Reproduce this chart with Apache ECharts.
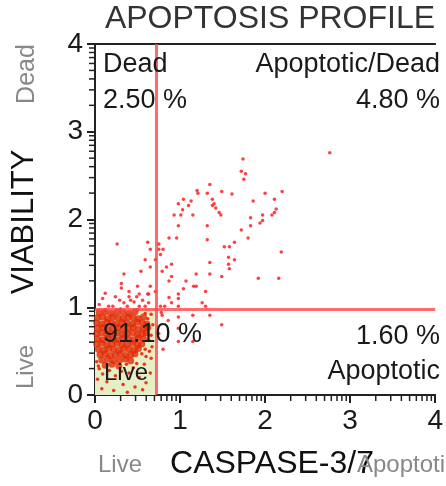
<!DOCTYPE html>
<html>
<head>
<meta charset="UTF-8">
<title>Apoptosis Profile</title>
<script src="https://cdn.jsdelivr.net/npm/echarts@6.0.0/dist/echarts.min.js"></script>
<style>
  html, body { margin: 0; padding: 0; background: #fff; }
  #chart { width: 446px; height: 486px; }
</style>
</head>
<body>
<div id="chart"></div>
<script>
// axis ticks (log10 decades shown on a linear 0-4 scale)
const majorTicks = [0, 1, 2, 3, 4];
const minorMultipliers = [2, 3, 4, 5, 6, 7, 8, 9];

// gate lines
const gateX = 0.72;
const gateY = 0.98;

// quadrant texts
const quadrantNames = ['Dead', 'Apoptotic/Dead', 'Live', 'Apoptotic'];
const quadrantPercents = ['2.50 %', '4.80 %', '91.10 %', '1.60 %'];

// dense live population (core)
const liveCore = [
  [0.05,0.94],[0.12,0.95],[0.19,0.93],[0.26,0.95],[0.33,0.94],[0.40,0.93],[0.47,0.95],
  [0.03,0.88],[0.09,0.89],[0.15,0.87],[0.21,0.89],[0.27,0.88],[0.33,0.87],[0.39,0.89],[0.45,0.88],[0.51,0.87],[0.57,0.89],
  [0.02,0.82],[0.08,0.81],[0.14,0.83],[0.20,0.82],[0.26,0.81],[0.32,0.83],[0.38,0.82],[0.44,0.81],[0.50,0.83],[0.56,0.82],[0.61,0.81],
  [0.03,0.76],[0.09,0.77],[0.15,0.75],[0.21,0.76],[0.27,0.77],[0.33,0.75],[0.39,0.76],[0.45,0.77],[0.51,0.75],[0.57,0.76],[0.62,0.77],
  [0.02,0.70],[0.08,0.71],[0.14,0.69],[0.20,0.70],[0.26,0.71],[0.32,0.69],[0.38,0.70],[0.44,0.71],[0.50,0.69],[0.56,0.70],[0.60,0.71],
  [0.03,0.64],[0.09,0.63],[0.15,0.65],[0.21,0.64],[0.27,0.63],[0.33,0.65],[0.39,0.64],[0.45,0.63],[0.51,0.65],[0.57,0.64],
  [0.02,0.58],[0.08,0.59],[0.14,0.57],[0.20,0.58],[0.26,0.59],[0.32,0.57],[0.38,0.58],[0.44,0.59],[0.50,0.57],[0.55,0.58],
  [0.04,0.52],[0.10,0.51],[0.16,0.53],[0.22,0.52],[0.28,0.51],[0.34,0.53],[0.40,0.52],[0.46,0.51],[0.51,0.53],
  [0.06,0.46],[0.12,0.47],[0.18,0.45],[0.24,0.46],[0.30,0.47],[0.36,0.45],[0.42,0.46],[0.47,0.47],
  [0.08,0.40],[0.15,0.41],[0.22,0.39],[0.29,0.40],[0.36,0.41],[0.42,0.39],
  [0.12,0.34],[0.20,0.35],[0.28,0.33]
];

// sparse live events around the core
const liveEdge = [
  [0.05,0.30],[0.17,0.28],[0.31,0.27],[0.45,0.31],[0.58,0.35],[0.66,0.42],[0.67,0.55],[0.66,0.68],
  [0.68,0.80],[0.66,0.92],[0.09,0.24],[0.24,0.22],[0.40,0.25],[0.52,0.20],[0.03,0.18],[0.14,0.15],
  [0.33,0.12],[0.47,0.09],[0.60,0.14],[0.08,0.07],[0.22,0.05],[0.38,0.03],[0.56,0.06],[0.65,0.25],
  [0.02,0.38],[0.60,0.44],[0.12,0.97],[0.30,0.98],[0.50,0.97],[0.64,0.50],[0.59,0.93],[0.62,0.87],
  [0.55,0.47],[0.49,0.36],[0.37,0.35],[0.04,0.33],[0.63,0.62],[0.59,0.52]
];

// scattered events outside the live gate
const otherEvents = [
  [2.76,2.76],[1.74,2.69],[1.72,2.55],[1.77,2.52],[1.75,2.46],[1.35,2.40],[1.20,2.33],[1.21,2.30],
  [1.49,2.32],[1.61,2.29],[2.00,2.30],[2.20,2.32],[2.11,2.23],[1.86,2.21],[1.38,2.23],[1.32,2.30],
  [1.13,2.21],[1.04,2.23],[0.98,2.18],[1.10,2.16],[1.03,2.11],[1.40,2.18],[1.42,2.13],[1.38,2.16],
  [1.46,2.08],[1.48,2.05],[0.93,2.05],[1.01,2.05],[1.15,2.05],[2.13,2.12],[2.11,2.08],[2.08,2.05],
  [1.97,2.05],[1.83,2.02],[1.97,1.99],[1.94,1.96],[1.83,1.93],[1.32,1.93],[0.98,1.93],[1.72,1.88],
  [1.80,1.79],[1.32,1.77],[1.64,1.74],[0.87,1.79],[0.96,1.79],[1.52,1.69],[1.58,1.69],[2.19,1.63],
  [1.35,1.51],[1.57,1.57],[1.64,1.54],[1.57,1.49],[1.58,1.44],[0.75,1.72],[0.75,1.66],[0.80,1.66],
  [0.77,1.60],[0.71,1.54],[0.65,1.66],[0.65,1.46],[0.84,1.46],[0.90,1.49],[0.79,1.41],[1.19,1.38],
  [1.35,1.38],[1.49,1.35],[1.92,1.33],[2.16,1.33],[0.90,1.35],[0.87,1.30],[1.07,1.30],[1.16,1.24],
  [1.19,1.24],[1.04,1.21],[0.65,1.24],[0.71,1.18],[1.30,1.18],[0.98,1.15],[0.63,1.15],[0.87,1.11],
  [0.98,1.10],[0.90,1.05],[1.26,1.05],[1.30,1.01],[0.82,1.01],[0.77,1.01],[0.98,1.01],
  [0.26,1.72],[0.34,1.38],[0.54,1.41],[0.59,1.54],[0.62,1.74],[0.31,1.27],[0.31,1.22],[0.50,1.24],
  [0.40,1.18],[0.52,1.15],[0.62,1.15],[0.09,1.10],[0.29,1.08],[0.42,1.08],[0.46,1.06],[0.56,1.08],
  [0.63,1.05],[0.34,1.05],[0.21,1.01],[0.16,1.01],[0.38,1.01],[0.52,1.01],[0.59,1.01],[0.40,1.12],
  [0.49,1.12],[0.05,1.03],[0.24,1.12],[0.12,1.16],
  [0.78,0.94],[0.79,0.91],[0.86,0.85],[0.98,0.89],[1.15,0.91],[1.35,0.91],[1.49,0.80],[0.98,0.76],
  [0.98,0.61],[1.15,0.61],[0.75,0.70],[0.80,0.52]
];

// minor tick positions inside each decade
const minorTicks = [];
for (let d = 0; d < 4; d++) {
  minorMultipliers.forEach(k => minorTicks.push(d + Math.log10(k)));
}

const chart = echarts.init(document.getElementById('chart'));

const font = 'Liberation Sans, Arial, sans-serif';
const txt = (text, x, y, size, opts) => Object.assign({
  type: 'text', x: x, y: y, z: 100,
  style: Object.assign({ text: text, font: size + 'px ' + font, fill: '#1a1a1a',
    align: 'left', verticalAlign: 'middle' }, opts && opts.style)
}, opts && opts.el);

const labels = [
  txt('APOPTOSIS PROFILE', 270, 19, 32, { style: { align: 'center', fill: '#333' } }),
  txt(quadrantNames[0], 103, 65, 27),
  txt(quadrantPercents[0], 103, 101, 27),
  txt(quadrantNames[1], 440, 65, 27, { style: { align: 'right' } }),
  txt(quadrantPercents[1], 440, 101, 27, { style: { align: 'right' } }),
  txt(quadrantPercents[2], 103, 335, 27),
  txt(quadrantNames[2], 104, 373, 24),
  txt(quadrantPercents[3], 440, 337, 27, { style: { align: 'right' } }),
  txt(quadrantNames[3], 440, 372, 27, { style: { align: 'right' } }),
  txt('VIABILITY', 24, 222, 31, { style: { align: 'center', fill: '#111' }, el: { rotation: Math.PI / 2 } }),
  txt('Dead', 27, 74, 25, { style: { align: 'center', fill: '#888' }, el: { rotation: Math.PI / 2 } }),
  txt('Live', 26, 367, 24, { style: { align: 'center', fill: '#888' }, el: { rotation: Math.PI / 2 } }),
  txt('CASPASE-3/7', 272, 464, 32, { style: { align: 'center', fill: '#111' } }),
  txt('Live', 98, 465, 24, { style: { fill: '#888' } }),
  txt('Apoptotic', 357, 465, 24, { style: { fill: '#888' } })
];

const option = {
  animation: false,
  grid: { left: 95, right: 3, top: 44, bottom: 91 },
  xAxis: [
    {
      type: 'value', min: 0, max: 4, interval: 1,
      position: 'bottom',
      splitLine: { show: false },
      axisLine: { lineStyle: { color: '#222', width: 2 } },
      axisTick: { length: 8, lineStyle: { color: '#222', width: 2 } },
      axisLabel: { fontSize: 28, fontFamily: font, color: '#1a1a1a', margin: 12,
        formatter: v => majorTicks.includes(v) ? String(v) : '' }
    },
    {
      type: 'value', min: 0, max: 4,
      position: 'top',
      splitLine: { show: false },
      axisLine: { lineStyle: { color: '#222', width: 2 } },
      axisLabel: { show: false },
      axisTick: { show: false }
    }
  ],
  yAxis: {
    type: 'value', min: 0, max: 4, interval: 1,
    position: 'left',
    splitLine: { show: false },
    axisLine: { lineStyle: { color: '#222', width: 2 } },
    axisTick: { length: 8, lineStyle: { color: '#222', width: 2 } },
    axisLabel: { fontSize: 28, fontFamily: font, color: '#1a1a1a', margin: 12,
      formatter: v => majorTicks.includes(v) ? String(v) : '' }
  },
  series: [
    {
      type: 'scatter',
      data: liveCore,
      symbolSize: 7,
      itemStyle: { color: '#e42a06' },
      silent: true,
      z: 3,
      markArea: {
        silent: true,
        itemStyle: { color: '#e6eec6' },
        data: [[{ coord: [0, 0] }, { coord: [gateX, gateY] }]]
      }
    },
    {
      type: 'scatter',
      data: liveEdge,
      symbolSize: 3.5,
      itemStyle: { color: '#ea2208', opacity: 0.9 },
      silent: true,
      z: 3
    },
    {
      type: 'scatter',
      data: otherEvents,
      symbolSize: 3.5,
      itemStyle: { color: '#ff1f1f', opacity: 0.85 },
      silent: true,
      z: 3
    },
    {
      type: 'scatter',
      data: [],
      z: 4,
      markLine: {
        silent: true,
        symbol: 'none',
        label: { show: false },
        lineStyle: { color: 'rgba(255,70,70,0.8)', width: 3, type: 'solid' },
        data: [{ xAxis: gateX }, { yAxis: gateY }]
      }
    }
  ],
  graphic: labels
};

chart.setOption(option);

// log-decade minor ticks, positioned through the axes' own scales
const minorTickMarks = [];
minorTicks.forEach(v => {
  const px = chart.convertToPixel({ xAxisIndex: 0 }, v);
  const y0 = chart.convertToPixel({ yAxisIndex: 0 }, 0);
  minorTickMarks.push({ type: 'line', z: 50, silent: true,
    shape: { x1: px, y1: y0, x2: px, y2: y0 + 6 }, style: { stroke: '#222', lineWidth: 1.5 } });
  const py = chart.convertToPixel({ yAxisIndex: 0 }, v);
  const x0 = chart.convertToPixel({ xAxisIndex: 0 }, 0);
  minorTickMarks.push({ type: 'line', z: 50, silent: true,
    shape: { x1: x0, y1: py, x2: x0 - 6, y2: py }, style: { stroke: '#222', lineWidth: 1.5 } });
});

chart.setOption({ graphic: labels.concat(minorTickMarks) });
</script>
</body>
</html>
